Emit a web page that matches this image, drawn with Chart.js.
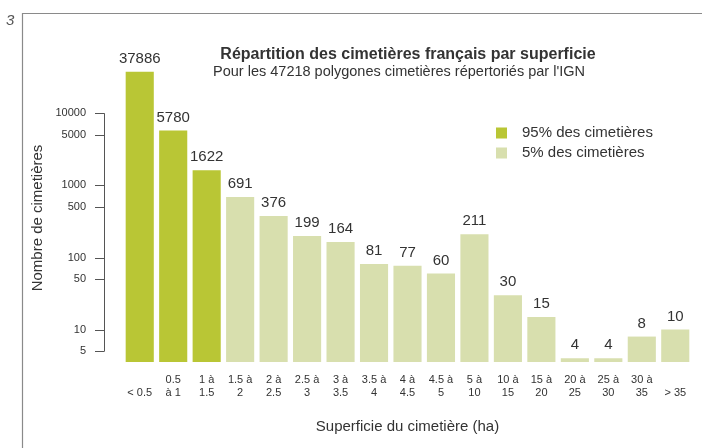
<!DOCTYPE html>
<html>
<head>
<meta charset="utf-8">
<script src="https://cdn.jsdelivr.net/npm/chart.js@4/dist/chart.umd.min.js"></script>
<style>
html,body{margin:0;padding:0;background:#fff;}
canvas{display:block;}
</style>
</head>
<body>
<canvas id="c" width="702" height="448"></canvas>
<script>
// ---- Data ----
const categories = [["", "< 0.5"], ["0.5", "à 1"], ["1 à", "1.5"], ["1.5 à", "2"], ["2 à", "2.5"], ["2.5 à", "3"], ["3 à", "3.5"], ["3.5 à", "4"], ["4 à", "4.5"], ["4.5 à", "5"], ["5 à", "10"], ["10 à", "15"], ["15 à", "20"], ["20 à", "25"], ["25 à", "30"], ["30 à", "35"], ["", "> 35"]];
const counts = [37886, 5780, 1622, 691, 376, 199, 164, 81, 77, 60, 211, 30, 15, 4, 4, 8, 10];
const groupOf = [0, 0, 0, 1, 1, 1, 1, 1, 1, 1, 1, 1, 1, 1, 1, 1, 1];
const groupLabels = ["95% des cimetières", "5% des cimetières"];
const yTickValues = [5, 10, 50, 100, 500, 1000, 5000, 10000];
const chartTitle = "Répartition des cimetières français par superficie";
const chartSubtitle = "Pour les 47218 polygones cimetières répertoriés par l'IGN";
const xTitle = "Superficie du cimetière (ha)";
const yTitle = "Nombre de cimetières";
const pageNumber = "3";

const colors = ["#b9c635", "#d8dfae"];
const FONT = '"Liberation Sans", Arial, Helvetica, sans-serif';
const TEXT = "#333333";

const datasets = groupLabels.map((lab, g) => ({
  label: lab,
  data: counts.map((v, i) => groupOf[i] === g ? v : null),
  backgroundColor: colors[g],
  borderWidth: 0,
  grouped: false,
  categoryPercentage: 1,
  barPercentage: 0.84
}));

const decor = {
  id: 'decor',
  beforeDraw(chart) {
    const ctx = chart.ctx;
    ctx.save();
    ctx.fillStyle = '#fff';
    ctx.fillRect(0, 0, chart.width, chart.height);
    // frame
    ctx.strokeStyle = '#8a8a8a';
    ctx.lineWidth = 1.2;
    ctx.beginPath();
    ctx.moveTo(22.5, 448);
    ctx.lineTo(22.5, 13.5);
    ctx.lineTo(702, 13.5);
    ctx.stroke();
    // page number
    ctx.fillStyle = '#555';
    ctx.font = 'italic 15px ' + FONT;
    ctx.textAlign = 'left';
    ctx.textBaseline = 'alphabetic';
    ctx.fillText(pageNumber, 6, 25);
    ctx.restore();
  },
  afterDatasetsDraw(chart) {
    const ctx = chart.ctx;
    const x = chart.scales.x, y = chart.scales.y;
    ctx.save();
    // y axis (R style)
    const yTop = y.getPixelForValue(yTickValues[yTickValues.length - 1]);
    const yBot = y.getPixelForValue(yTickValues[0]);
    ctx.strokeStyle = '#555';
    ctx.lineWidth = 1;
    ctx.beginPath();
    ctx.moveTo(104.5, yTop);
    ctx.lineTo(104.5, yBot);
    yTickValues.forEach(v => {
      const py = Math.round(y.getPixelForValue(v)) + 0.5;
      ctx.moveTo(95, py);
      ctx.lineTo(104.5, py);
    });
    ctx.stroke();
    ctx.fillStyle = TEXT;
    ctx.font = '11px ' + FONT;
    ctx.textAlign = 'right';
    ctx.textBaseline = 'middle';
    yTickValues.forEach(v => {
      ctx.fillText(String(v), 86, y.getPixelForValue(v));
    });
    // x labels
    ctx.textAlign = 'center';
    categories.forEach((lines, i) => {
      const px = x.getPixelForValue(i);
      lines.forEach((t, k) => ctx.fillText(t, px, 380 + k * 13));
    });
    // value labels
    ctx.font = '15px ' + FONT;
    ctx.textBaseline = 'alphabetic';
    chart.data.datasets.forEach((ds, di) => {
      const meta = chart.getDatasetMeta(di);
      meta.data.forEach((el, i) => {
        const v = ds.data[i];
        if (v == null) return;
        ctx.fillText(String(v), el.x, el.y - 9);
      });
    });
    // axis titles
    ctx.font = '15px ' + FONT;
    ctx.textBaseline = 'middle';
    ctx.fillText(xTitle, (chart.chartArea.left + chart.chartArea.right) / 2, 427);
    ctx.save();
    ctx.translate(38, 218);
    ctx.rotate(-Math.PI / 2);
    ctx.fillText(yTitle, 0, 0);
    ctx.restore();
    // title & subtitle
    ctx.font = 'bold 16px ' + FONT;
    ctx.fillText(chartTitle, 408, 55);
    ctx.font = '14.5px ' + FONT;
    ctx.fillText(chartSubtitle, 399, 72);
    // legend
    ctx.font = '15px ' + FONT;
    ctx.textAlign = 'left';
    chart.data.datasets.forEach((ds, di) => {
      const cy = 133 + di * 20;
      ctx.fillStyle = ds.backgroundColor;
      ctx.fillRect(496, cy - 5.5, 11, 11);
      ctx.fillStyle = TEXT;
      ctx.fillText(ds.label, 522, cy);
    });
    ctx.restore();
  }
};

new Chart(document.getElementById('c'), {
  type: 'bar',
  data: { labels: categories.map(l => l.join(' ').trim()), datasets },
  options: {
    responsive: false,
    devicePixelRatio: 1,
    animation: false,
    layout: { padding: { left: 123, right: 10, top: 63, bottom: 86 } },
    plugins: { legend: { display: false }, title: { display: false }, tooltip: { enabled: false } },
    scales: {
      x: { display: false, offset: true },
      y: { type: 'logarithmic', display: false, min: 3.55, max: 50000 }
    }
  },
  plugins: [decor]
});
</script>
</body>
</html>
